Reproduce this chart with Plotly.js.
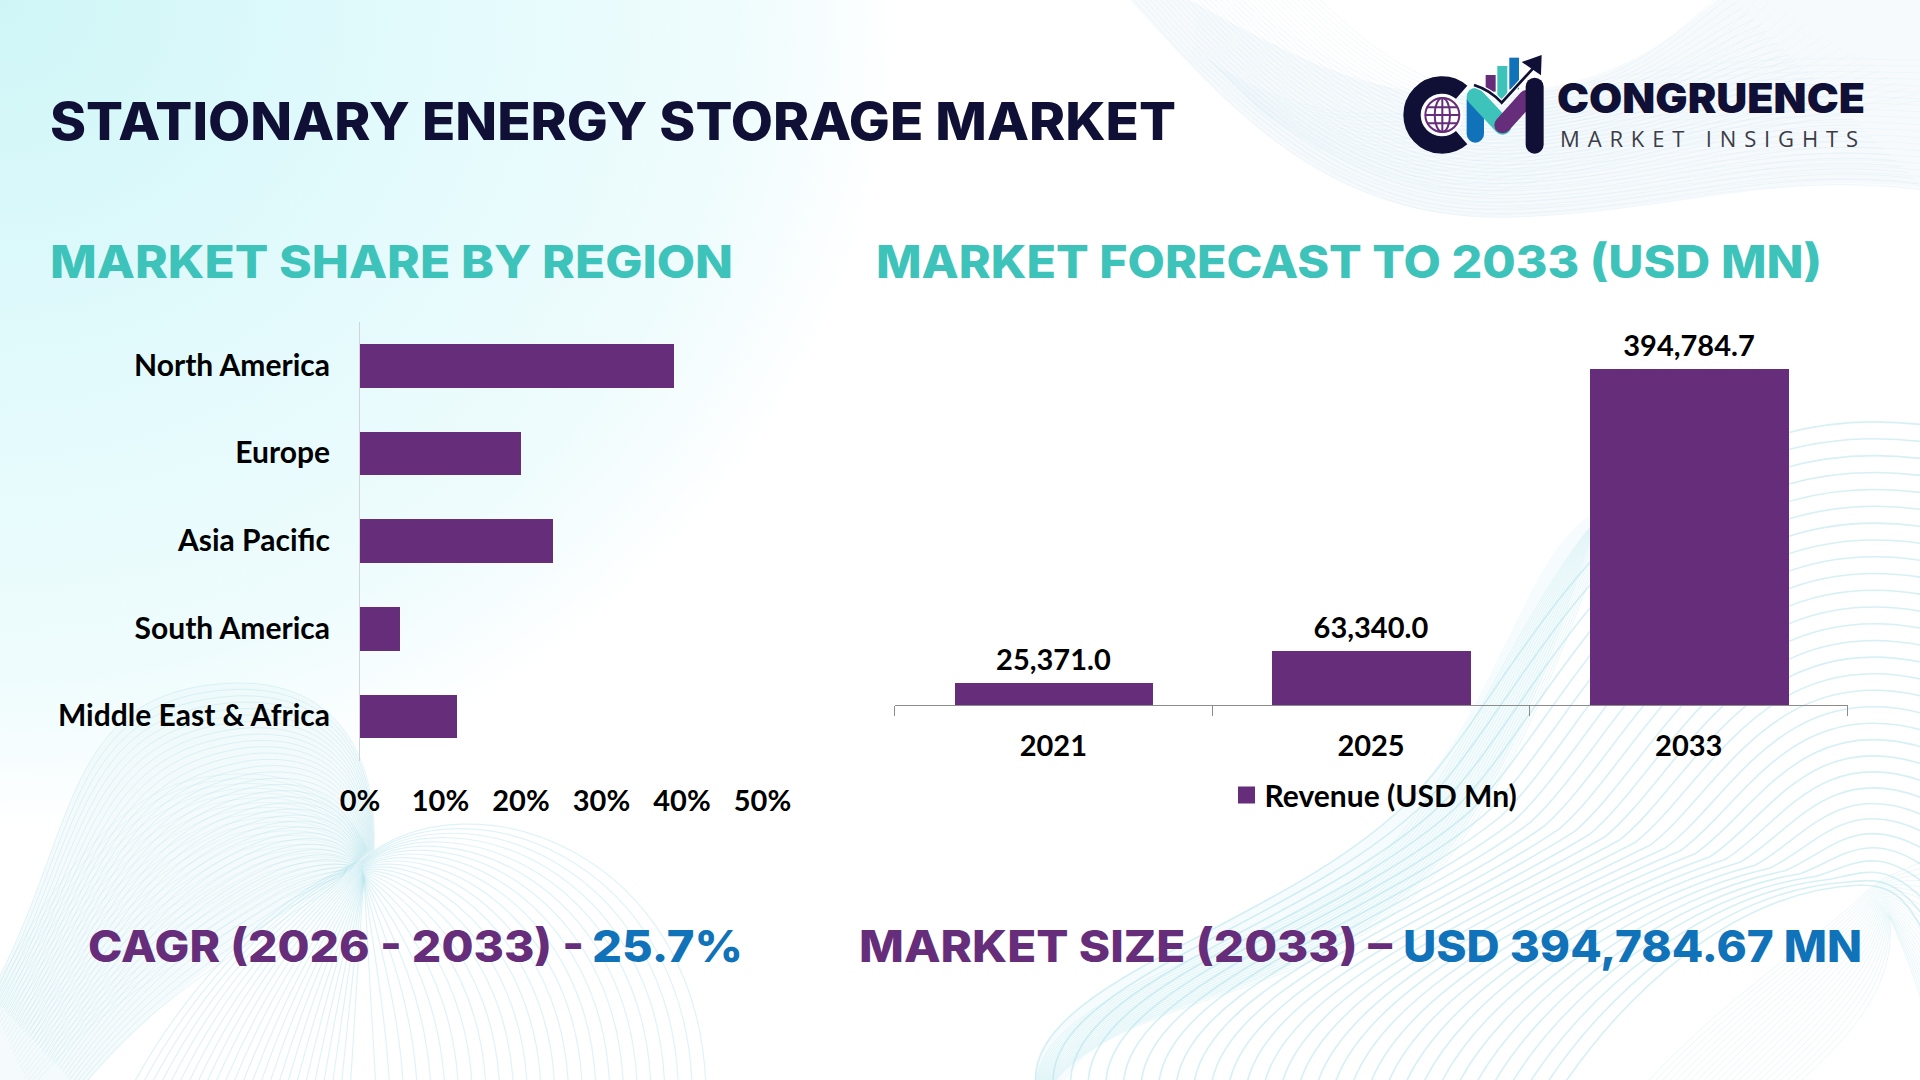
<!DOCTYPE html>
<html>
<head>
<meta charset="utf-8">
<script src="https://cdn.plot.ly/plotly-3.0.1.min.js"></script>
<style>
html,body{margin:0;padding:0;background:#fff;width:1920px;height:1080px;overflow:hidden}
#chart{width:1920px;height:1080px}
</style>
</head>
<body>
<div id="chart"></div>
<script>
// ---- data ----
const regions = ["North America", "Europe", "Asia Pacific", "South America", "Middle East & Africa"];
const shareValues = [39, 20, 24, 5, 12];
const years = ["2021", "2025", "2033"];
const revenueValues = [25371.0, 63340.0, 394784.7];
const seriesName = "Revenue (USD Mn)";
const shareTicks = [0, 10, 20, 30, 40, 50];
const shareTickLabels = ["0%", "10%", "20%", "30%", "40%", "50%"];

// ---- palette ----
const PURPLE = "#652d7a", TEAL = "#3ec3bb", NAVY = "#100f36", BLUE = "#1072b8";
const W = 1920, H = 1080;
const CHART_FONT = "Lato, Carlito, sans-serif";
const HEAD_FONT = "Inter, sans-serif";

// ---- decorative backdrop (gradient, wave ribbons) and logo mark ----
function blend(a, b, n, color, op, sw) {
  let out = `<g fill="none" stroke="${color}" stroke-opacity="${op}" stroke-width="${sw}">`;
  for (let i = 0; i <= n; i++) {
    const t = i / n;
    const p = a.map((v, k) => (v + (b[k] - v) * t).toFixed(1));
    let d = `M${p[0]},${p[1]}`;
    for (let k = 2; k < p.length; k += 6) d += `C${p[k]},${p[k+1]} ${p[k+2]},${p[k+3]} ${p[k+4]},${p[k+5]}`;
    out += `<path d="${d}"/>`;
  }
  return out + "</g>";
}
function backdrop() {
  let s = `<svg xmlns="http://www.w3.org/2000/svg" width="${W}" height="${H}" viewBox="0 0 ${W} ${H}">`;
  s += `<defs><radialGradient id="g" gradientUnits="userSpaceOnUse" cx="0" cy="0" r="1" gradientTransform="scale(900,830)">
    <stop offset="0" stop-color="#cff6f7"/><stop offset="0.45" stop-color="#e2fafc"/><stop offset="0.82" stop-color="#effcfd"/><stop offset="0.96" stop-color="#fbfeff"/><stop offset="1" stop-color="#ffffff"/></radialGradient></defs>`;
  s += `<rect width="${W}" height="${H}" fill="#fff"/><rect width="${W}" height="${H}" fill="url(#g)"/>`;
  const c1 = "#b4d6e8", c2 = "#a2dbe4", c3 = "#a6dfe8";
  // pale ribbon fills
  s += `<path d="M1130,0C1230,110 1330,225 1520,217C1680,210 1780,170 1920,188V0H1717C1690,20 1650,65 1560,85C1400,120 1300,60 1190,0Z" fill="#eef5fa" fill-opacity=".55"/>`;
  s += `<path d="M-10,995C80,830 60,690 233,683C340,680 378,760 372,850C345,880 200,950 80,1090H-10Z" fill="#e8f6f9" fill-opacity=".45"/>`;
  s += `<path d="M1036,1090C1020,980 1280,930 1410,800C1500,700 1530,540 1600,510C1560,640 1500,820 1400,900C1290,1000 1100,1000 1060,1090Z" fill="#e6f5f9" fill-opacity=".35"/>`;
  // top right fold
  s += blend([1130,-5, 1230,110, 1330,225, 1520,217, 1680,210, 1780,170, 1925,190],
             [1290,-30, 1370,50, 1440,120, 1580,85, 1650,65, 1690,20, 1725,-10], 34, c1, .16, 1);
  s += blend([1925,190, 1760,170, 1640,215, 1480,215, 1380,215, 1320,170, 1190,60],
             [1925,60, 1840,60, 1720,50, 1560,90, 1480,110, 1360,110, 1205,-30], 20, c1, .10, 1);
  s += blend([1760,-5, 1690,90, 1550,120, 1353,113, 1300,108, 1250,90, 1205,57],
             [1925,100, 1800,120, 1700,140, 1500,190, 1440,205, 1340,170, 1260,110], 18, c1, .10, 1);
  // bottom left leaf
  s += blend([-10,995, 80,830, 60,690, 233,683, 340,680, 378,760, 374,850],
             [80,1090, 150,1000, 230,960, 290,915, 320,895, 340,885, 346,870], 36, c2, .30, 1);
  s += blend([-10,1000, 40,900, 110,800, 190,780, 280,760, 340,790, 368,850],
             [30,1090, 100,1000, 200,950, 280,900, 320,880, 345,880, 352,868], 24, c2, .20, 1);
  // bottom centre arches
  s += blend([130,1090, 200,960, 290,890, 362,860, 470,770, 700,850, 706,1090],
             [350,1090, 355,1020, 358,950, 364,880, 368,950, 372,1020, 376,1090], 24, c3, .36, 1.2);
  // bottom right domes
  s += blend([1036,1090, 1020,980, 1280,930, 1410,800, 1520,690, 1620,388, 1925,425],
             [1560,1090, 1620,1000, 1730,890, 1860,885, 1890,885, 1905,895, 1925,935], 30, c3, .46, 1.6);
  s += blend([1036,1090, 1030,1000, 1240,950, 1340,890, 1440,830, 1500,640, 1590,527],
             [1048,1090, 1110,1000, 1300,1000, 1410,900, 1500,820, 1570,640, 1610,520], 20, c3, .26, 1);
  // corner band
  s += blend([1640,1090, 1720,1000, 1830,930, 1868,890, 1885,875, 1905,870, 1925,860],
             [1790,1090, 1860,1030, 1895,980, 1890,920, 1885,905, 1905,950, 1925,1010], 22, c3, .24, 1);

  // logo mark, in a local frame
  s += `<g transform="translate(1380,30) scale(.3333)" fill="none">`;
  s += `<path d="M245,187 A90,90 0 1 0 245,323" stroke="${NAVY}" stroke-width="52"/>`;
  s += `<circle cx="187" cy="255" r="62" fill="#fff"/>`;
  s += `<g stroke="${PURPLE}" stroke-width="6"><circle cx="187" cy="255" r="51"/><ellipse cx="187" cy="255" rx="23" ry="51"/><path d="M187,204V306M140,232H234M136,255H238M142,280H232"/></g>`;
  s += `<rect x="317" y="135" width="30" height="50" fill="${PURPLE}"/><rect x="352" y="108" width="30" height="100" fill="${TEAL}"/><rect x="388" y="83" width="29" height="95" fill="${BLUE}"/>`;
  s += `<path d="M286,210V312" stroke="${BLUE}" stroke-width="52" stroke-linecap="round"/>`;
  s += `<path d="M286,200L368,288" stroke="${TEAL}" stroke-width="52" stroke-linecap="round"/>`;
  s += `<path d="M368,285L440,205" stroke="${PURPLE}" stroke-width="50" stroke-linecap="round"/>`;
  s += `<path d="M464,170V344" stroke="${NAVY}" stroke-width="54" stroke-linecap="round"/>`;
  s += `<path d="M282,165Q330,180 365,218L462,112" stroke="#fff" stroke-width="15"/>`;
  s += `<path d="M282,165Q330,180 365,218L462,112" stroke="${NAVY}" stroke-width="8"/>`;
  s += `<path d="M425,96L485,75L483,136Z" fill="${NAVY}"/>`;
  s += `</g></svg>`;
  return "data:image/svg+xml;charset=utf-8," + encodeURIComponent(s);
}

// ---- headline text: [text, left px, right px, centre y px, size, weight, colour, family] ----
const headlines = [
  ["STATIONARY ENERGY STORAGE MARKET", 50, 1176, 121, 52, 800, NAVY, HEAD_FONT],
  ["MARKET SHARE BY REGION", 50, 733, 261, 45, 800, TEAL, HEAD_FONT],
  ["MARKET FORECAST TO 2033 (USD MN)", 876, 1822, 261, 45, 800, TEAL, HEAD_FONT],
  ["CAGR (2026 - 2033) -", 88, 584, 946, 44, 800, PURPLE, HEAD_FONT],
  ["25.7%", 592, 743, 946, 44, 800, BLUE, HEAD_FONT],
  ["MARKET SIZE (2033) –", 859, 1392, 946, 44, 800, PURPLE, HEAD_FONT],
  ["USD 394,784.67 MN", 1403, 1862, 946, 44, 800, BLUE, HEAD_FONT],
  ["CONGRUENCE", 1557, 1865, 98, 41, 900, NAVY, HEAD_FONT],
  ["MARKET INSIGHTS", 1560, 1858, 138, 22, 400, "#3c3c46", "'Open Sans', sans-serif"],
];
const annotations = headlines.map(h => ({
  text: h[0], xref: "paper", yref: "paper", x: h[1] / W, y: 1 - h[3] / H,
  xanchor: "left", yanchor: "middle", align: "left", showarrow: false,
  borderpad: 0, borderwidth: 0,
  font: { family: h[7], size: h[4], weight: h[5], color: h[6] }
}));

const labelFont = { family: CHART_FONT, size: 30, weight: 700, color: "#000" };
const tickFont = { family: CHART_FONT, size: 29, weight: 700, color: "#000" };

const traces = [
  { type: "bar", orientation: "h", x: shareValues, y: regions, xaxis: "x", yaxis: "y",
    width: 0.5, marker: { color: PURPLE }, showlegend: false, hoverinfo: "x+y" },
  { type: "bar", x: years, y: revenueValues, xaxis: "x2", yaxis: "y2", name: seriesName,
    width: 0.625, marker: { color: PURPLE }, showlegend: true,
    text: revenueValues, texttemplate: "%{y:,.1f}", textposition: "outside", cliponaxis: false,
    textangle: 0, constraintext: "none", textfont: tickFont },
];

const layout = {
  width: W, height: H, margin: { l: 0, r: 0, t: 0, b: 0, pad: 0 },
  paper_bgcolor: "rgba(0,0,0,0)", plot_bgcolor: "rgba(0,0,0,0)",
  showlegend: true, bargap: 0,
  images: [{ source: backdrop(), xref: "paper", yref: "paper", x: 0, y: 1, sizex: 1, sizey: 1,
    xanchor: "left", yanchor: "top", sizing: "stretch", layer: "below" }],
  xaxis: { domain: [360 / W, 762.5 / W], range: [0, 50], tickmode: "array", tickvals: shareTicks, ticktext: shareTickLabels,
    showgrid: false, zeroline: false, showline: false, ticks: "", ticklabelstandoff: 20,
    tickfont: tickFont, anchor: "y", fixedrange: true },
  yaxis: { domain: [1 - 760.7 / H, 1 - 322.4 / H], type: "category", categoryorder: "array",
    categoryarray: regions, autorange: "reversed", showgrid: false, zeroline: false,
    showline: true, linecolor: "#d4d4d8", linewidth: 1, ticks: "", ticklabelstandoff: 23,
    tickfont: labelFont, anchor: "x", fixedrange: true },
  xaxis2: { domain: [894.5 / W, 1847.6 / W], type: "category", categoryorder: "array", categoryarray: years,
    tickson: "boundaries", ticks: "outside", ticklen: 10, tickcolor: "#8c8c8c", tickwidth: 1,
    showline: true, linecolor: "#8c8c8c", linewidth: 1, showgrid: false, zeroline: false,
    tickfont: tickFont, ticklabelstandoff: 15, anchor: "y2", fixedrange: true },
  yaxis2: { domain: [1 - 705.3 / H, 1 - 330.4 / H], range: [0, 440000], visible: false, anchor: "x2", fixedrange: true },
  legend: { orientation: "h", x: 1226.5 / W, xanchor: "left", y: 1 - 795 / H, yanchor: "middle",
    bgcolor: "rgba(0,0,0,0)", borderwidth: 0, font: labelFont },
  annotations,
};

Plotly.newPlot("chart", traces, layout, { displayModeBar: false, responsive: false }).then(() => {
  // Enlarge the legend swatch to the reference's size and pull its label in.
  document.querySelectorAll(".legendbar path, .legendpoints path").forEach(p => {
    if ((p.getAttribute("d") || "").startsWith("M6,6")) p.setAttribute("d", "M8.5,8.5H-8.5V-8.5H8.5Z");
  });
  document.querySelectorAll(".legendtext").forEach(t => {
    t.setAttribute("x", parseFloat(t.getAttribute("x") || 0) - 2);
  });
  // Lift the value labels to the reference's gap above the bars.
  document.querySelectorAll(".bartext").forEach(t => {
    t.setAttribute("transform", "translate(0,-4) " + (t.getAttribute("transform") || ""));
  });
  // Nudge the region labels up to the reference's baseline.
  document.querySelectorAll(".ytick text").forEach(t => {
    t.setAttribute("transform", "translate(0,-1) " + (t.getAttribute("transform") || ""));
  });
  // Fit each headline to its measured span.
  document.querySelectorAll(".annotation-text").forEach(t => {
    const h = headlines.find(q => q[0] === t.textContent);
    if (!h) return;
    const span = h[2] - h[1];
    if (h[5] === 400) {
      t.style.letterSpacing = ((span - t.getComputedTextLength()) / (h[0].length - 1)).toFixed(3) + "px";
    } else {
      t.setAttribute("textLength", span);
      t.setAttribute("lengthAdjust", "spacingAndGlyphs");
    }
  });
});
</script>
</body>
</html>
